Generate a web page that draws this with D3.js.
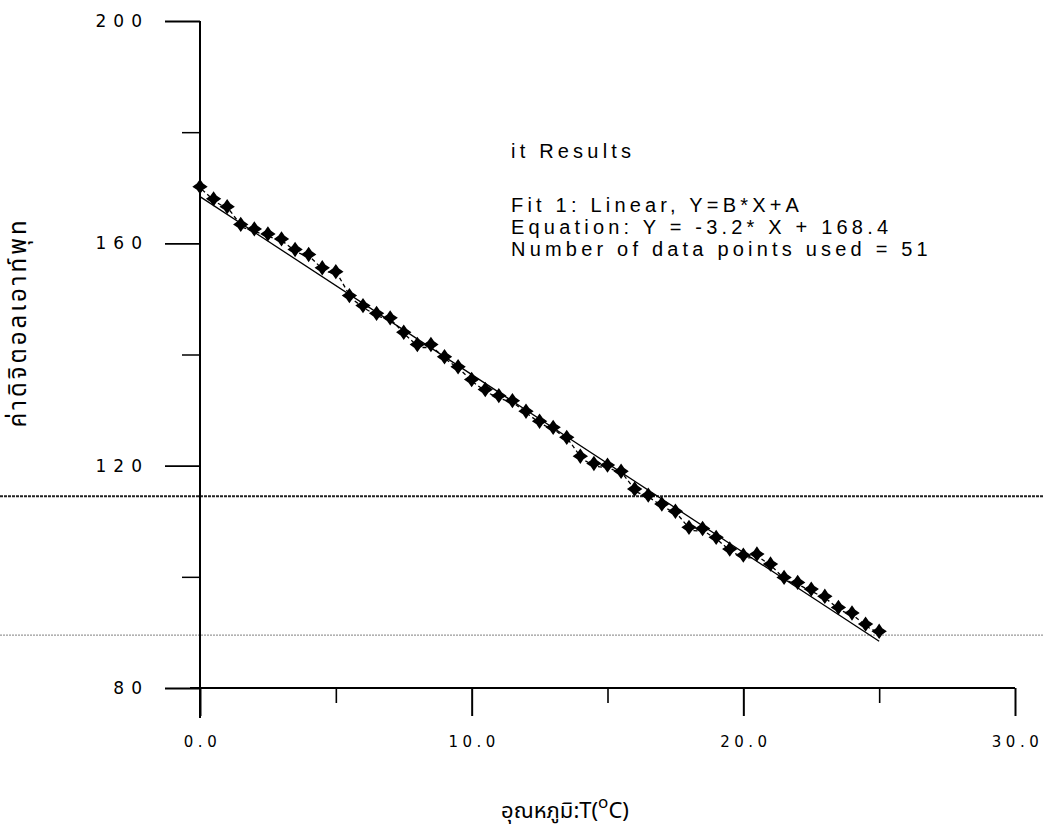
<!DOCTYPE html>
<html>
<head>
<meta charset="utf-8">
<script src="https://cdn.jsdelivr.net/npm/d3@7"></script>
<style>
  html, body { margin: 0; padding: 0; background: #fff; }
  svg { display: block; }
</style>
</head>
<body>
<script>
// ---- data ----
const temps = d3.range(0, 25.01, 0.5).map(v => +v.toFixed(1)); // 51 x-values, step 0.5 as measured
const outputs = [170.2, 168.0, 166.6, 163.4, 162.6, 161.7, 160.8, 158.9, 158.0, 155.6,
                 154.9, 150.6, 148.8, 147.4, 146.6, 144.0, 141.8, 141.8, 139.6, 137.8,
                 135.5, 133.7, 132.6, 131.7, 129.8, 128.0, 126.9, 125.1, 121.7, 120.4,
                 120.1, 119.0, 115.8, 114.7, 113.1, 111.8, 108.9, 108.7, 107.1, 105.0,
                 103.9, 104.1, 102.3, 99.9, 99.0, 97.8, 96.5, 94.5, 93.5, 91.5, 90.2];
const fitSlope = -3.2;
const fitIntercept = 168.4;
const fitRange = [0, 25];
const yMajorTicks = [80, 120, 160, 200];
const yMinorTicks = [100, 140, 180];
const xMajorTicks = [0, 10, 20, 30];
const xMinorTicks = [5, 15, 25];
const refLines = [114.5, 89.5];
const annotation = ["it Results", "", "Fit 1:  Linear, Y=B*X+A", "Equation: Y = -3.2* X  + 168.4", "Number of data points used = 51"];
const yTitle = "ค่าดิจิตอลเอาท์พุท";
const xTitleMain = "อุณหภูมิ:T(";
const xTitleSup = "o";
const xTitleEnd = "C)";

const W = 1043, H = 830;
const svg = d3.select("body").append("svg").attr("width", W).attr("height", H);

const x = d3.scaleLinear().domain([0, 30]).range([200, 1015]);
const y = d3.scaleLinear().domain([80, 200]).range([688, 21]);

const tickFont = "'DejaVu Sans', sans-serif";

// reference (scan) lines
svg.append("g").selectAll("line").data(refLines).join("line")
  .attr("x1", 0).attr("x2", W)
  .attr("y1", d => y(d)).attr("y2", d => y(d))
  .attr("stroke", (d, i) => i === 0 ? "#222" : "#999")
  .attr("stroke-width", (d, i) => i === 0 ? 1.8 : 1.2)
  .attr("stroke-dasharray", (d, i) => i === 0 ? "3,1" : "2,1");

// y axis major
const gy = svg.append("g").attr("transform", `translate(${x(0)},0)`)
  .call(d3.axisLeft(y).tickValues(yMajorTicks).tickSize(35).tickPadding(16).tickFormat(d3.format("d")));
gy.select(".domain").remove();
gy.selectAll("line").attr("stroke", "#000").attr("stroke-width", 1.8);
gy.selectAll("text").attr("font-family", tickFont).attr("font-size", 17)
  .attr("letter-spacing", "7px").attr("fill", "#000");

const gy2 = svg.append("g").attr("transform", `translate(${x(0)},0)`)
  .call(d3.axisLeft(y).tickValues(yMinorTicks).tickSize(18).tickFormat(""));
gy2.select(".domain").remove();
gy2.selectAll("line").attr("stroke", "#000").attr("stroke-width", 1.5);

// x axis major
const gx = svg.append("g").attr("transform", `translate(0,${y(80)})`)
  .call(d3.axisBottom(x).tickValues(xMajorTicks).tickSize(28).tickPadding(20).tickFormat(d3.format(".1f")));
gx.select(".domain").remove();
gx.selectAll("line").attr("stroke", "#000").attr("stroke-width", 2);
gx.selectAll("text").attr("font-family", tickFont).attr("font-size", 15)
  .attr("letter-spacing", "4.5px").attr("fill", "#000").attr("dx", 2);

const gx2 = svg.append("g").attr("transform", `translate(0,${y(80)})`)
  .call(d3.axisBottom(x).tickValues(xMinorTicks).tickSize(15).tickFormat(""));
gx2.select(".domain").remove();
gx2.selectAll("line").attr("stroke", "#000").attr("stroke-width", 1.6);

// axis lines
svg.append("line").attr("x1", x(0)).attr("x2", x(0)).attr("y1", y(200)).attr("y2", y(80) + 30)
  .attr("stroke", "#000").attr("stroke-width", 2);
svg.append("line").attr("x1", x(0) - 10).attr("x2", x(30)).attr("y1", y(80)).attr("y2", y(80))
  .attr("stroke", "#000").attr("stroke-width", 2);

// data polyline (dashed) and fit line
const pts = temps.map((t, i) => [t, outputs[i]]);
svg.append("path").datum(pts)
  .attr("fill", "none").attr("stroke", "#000").attr("stroke-width", 1.3)
  .attr("stroke-dasharray", "4,3")
  .attr("d", d3.line().x(d => x(d[0]) + 2).y(d => y(d[1]) + 3));
svg.append("path").datum(fitRange.map(t => [t, fitSlope * t + fitIntercept]))
  .attr("fill", "none").attr("stroke", "#000").attr("stroke-width", 1.3)
  .attr("d", d3.line().x(d => x(d[0])).y(d => y(d[1])));

// star markers
const star4 = {
  draw(ctx, size) {
    const r = Math.sqrt(size) * 0.75, ri = r * 0.58;
    for (let k = 0; k < 8; k++) {
      const a = k * Math.PI / 4 - Math.PI / 2;
      const rr = k % 2 === 0 ? r : ri;
      const px = rr * Math.cos(a), py = rr * Math.sin(a);
      if (k === 0) ctx.moveTo(px, py); else ctx.lineTo(px, py);
    }
    ctx.closePath();
  }
};
svg.append("g").selectAll("path").data(pts).join("path")
  .attr("transform", d => `translate(${x(d[0])},${y(d[1])})`)
  .attr("d", d3.symbol().type(star4).size(105))
  .attr("fill", "#000");

// annotation
const ann = svg.append("text")
  .attr("font-family", "'Liberation Sans', Arial, sans-serif").attr("font-size", 20)
  .attr("letter-spacing", "4.2px").attr("fill", "#000");
ann.selectAll("tspan").data(annotation).join("tspan")
  .attr("x", 511)
  .attr("y", (d, i) => i === 0 ? 158 : 212 + (i - 2) * 22)
  .text(d => d);

// y title
svg.append("text")
  .attr("transform", `translate(26,${(y(200) + y(80)) / 2 - 32}) rotate(-90)`)
  .attr("text-anchor", "middle")
  .attr("font-family", "'Noto Sans Thai', 'Noto Sans', 'DejaVu Sans', sans-serif")
  .attr("font-size", 24).attr("letter-spacing", "3px").attr("fill", "#000")
  .text(yTitle);

// x title
const xt = svg.append("text").attr("x", 565).attr("y", 818)
  .attr("text-anchor", "middle")
  .attr("font-family", "'Noto Sans Thai', 'Noto Sans', 'DejaVu Sans', sans-serif")
  .attr("font-size", 22).attr("fill", "#000");
xt.append("tspan").text(xTitleMain);
xt.append("tspan").attr("dy", -10).attr("font-size", 17).text(xTitleSup);
xt.append("tspan").attr("dy", 10).text(xTitleEnd);
</script>
</body>
</html>
